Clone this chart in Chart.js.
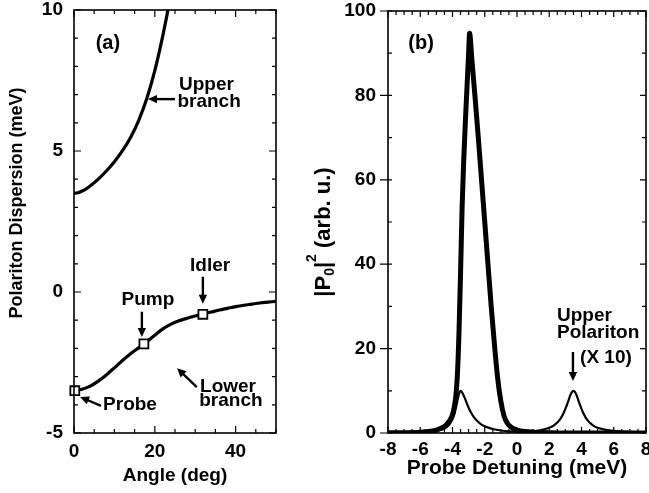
<!DOCTYPE html>
<html><head><meta charset="utf-8">
<script src="https://cdn.jsdelivr.net/npm/chart.js@4"></script>
<style>
html,body{margin:0;padding:0;background:#fff;width:649px;height:493px;overflow:hidden}
canvas{position:absolute;top:0;display:block}
#ca{left:0}
#cb{left:290px}
</style></head><body>
<canvas id="ca" width="320" height="493"></canvas>
<canvas id="cb" width="359" height="493"></canvas>
<script>
// ---------- Panel (a): polariton dispersion ----------
const UPPER_ANGLE  = [0, 1, 2, 3, 4, 6, 8, 10, 12, 14, 16, 18, 20, 22, 24];
const UPPER_ENERGY = [3.5, 3.52, 3.58, 3.66, 3.76, 4.0, 4.29, 4.62, 5.01, 5.48, 6.08, 6.85, 7.85, 9.1, 10.55];

const LOWER_ANGLE  = [0, 2, 4, 6, 8, 10, 12, 14, 16, 18, 20, 22, 24, 26, 28, 30, 32, 34, 36, 38, 40, 42, 44, 46, 48, 50];
const LOWER_ENERGY = [-3.5, -3.45, -3.34, -3.16, -2.94, -2.69, -2.43, -2.19, -1.98, -1.77, -1.53, -1.31, -1.14, -1.02, -0.93, -0.85, -0.78, -0.71, -0.64, -0.58, -0.52, -0.47, -0.43, -0.39, -0.36, -0.33];

const MARK_NAMES  = ['Probe', 'Pump', 'Idler'];
const MARK_ANGLE  = [0.2, 17.3, 31.9];
const MARK_ENERGY = [-3.5, -1.84, -0.79];

const LEFT_X_TICKS = [0, 20, 40];
const LEFT_Y_TICKS = [-5, 0, 5, 10];

// ---------- Panel (b): probe spectrum ----------
const THICK_X = [-8, -7, -6, -5.5, -5, -4.8, -4.6, -4.4, -4.2, -4.0, -3.9, -3.8, -3.7, -3.6, -3.5, -3.4, -3.3, -3.2, -3.1, -3.0, -2.94, -2.8, -2.6, -2.4, -2.2, -2.0, -1.8, -1.6, -1.4, -1.2, -1.0, -0.8, -0.6, -0.4, -0.2, 0, 0.5, 1, 2, 4, 8];
const THICK_Y = [0.04, 0.08, 0.2, 0.35, 0.7, 1.0, 1.3, 1.9, 2.8, 4.3, 6, 8.5, 13.5, 23.5, 38, 54, 65, 74, 82, 90, 94.7, 88.5, 79.5, 70, 60, 50, 40, 30, 21, 13, 7.5, 4.0, 2.3, 1.5, 1.0, 0.7, 0.35, 0.2, 0.07, 0.02, 0];

const THIN_X = [-8, -7, -6, -5.5, -5, -4.6, -4.4, -4.2, -4.0, -3.9, -3.8, -3.7, -3.6, -3.5, -3.4, -3.3, -3.2, -3.1, -3.0, -2.8, -2.6, -2.4, -2.2, -2.0, -1.8, -1.5, -1.0, -0.5, 0, 0.5, 1.0, 1.5, 2.0, 2.25, 2.5, 2.7, 2.9, 3.0, 3.1, 3.2, 3.3, 3.4, 3.5, 3.6, 3.7, 3.8, 3.9, 4.0, 4.1, 4.3, 4.5, 4.75, 5.0, 5.5, 6, 7, 8];
const THIN_Y = [0.1, 0.15, 0.25, 0.35, 0.55, 0.9, 1.3, 2.0, 3.3, 4.3, 5.8, 7.6, 9.2, 10, 9.6, 8.8, 7.9, 6.9, 6.0, 4.5, 3.4, 2.6, 2.0, 1.6, 1.3, 0.95, 0.6, 0.4, 0.3, 0.3, 0.4, 0.7, 1.25, 1.7, 2.5, 3.4, 4.8, 5.7, 6.7, 7.8, 8.9, 9.7, 10, 9.7, 8.9, 7.8, 6.7, 5.7, 4.8, 3.4, 2.5, 1.7, 1.25, 0.75, 0.5, 0.28, 0.18];

const RIGHT_X_TICKS = [-8, -6, -4, -2, 0, 2, 4, 6, 8];
const RIGHT_Y_TICKS = [0, 20, 40, 60, 80, 100];

// ---------- helpers ----------
const FONT = '"Liberation Sans", Arial, Helvetica, sans-serif';
const pts = (xs, ys) => xs.map((x, i) => ({x: x, y: ys[i]}));
function range(a, b, s) { const r = []; for (let v = a; v <= b + 1e-9; v += s) r.push(+v.toFixed(6)); return r; }

function arrow(ctx, x1, y1, x2, y2) {
  const a = Math.atan2(y2 - y1, x2 - x1), L = 9, W = 4.2;
  ctx.lineWidth = 2.4;
  ctx.beginPath(); ctx.moveTo(x1, y1);
  ctx.lineTo(x2 - Math.cos(a) * L * 0.8, y2 - Math.sin(a) * L * 0.8); ctx.stroke();
  ctx.beginPath(); ctx.moveTo(x2, y2);
  ctx.lineTo(x2 - L * Math.cos(a) + W * Math.sin(a), y2 - L * Math.sin(a) - W * Math.cos(a));
  ctx.lineTo(x2 - L * Math.cos(a) - W * Math.sin(a), y2 - L * Math.sin(a) + W * Math.cos(a));
  ctx.closePath(); ctx.fill();
}

function drawRotated(ctx, segs, bx, cy) {
  ctx.save(); ctx.translate(bx, cy); ctx.rotate(-Math.PI / 2);
  let total = 0;
  segs.forEach(s => { ctx.font = 'bold ' + s.size + 'px ' + FONT; s.w = ctx.measureText(s.t).width; total += s.w; });
  let u = -total / 2;
  ctx.textAlign = 'left'; ctx.textBaseline = 'alphabetic';
  segs.forEach(s => { ctx.font = 'bold ' + s.size + 'px ' + FONT; ctx.fillText(s.t, u, s.dy || 0); u += s.w; });
  ctx.restore();
}

function deco(o) {
  return {
    id: 'deco',
    afterDraw(chart) {
      const ctx = chart.ctx, a = chart.chartArea, xs = chart.scales.x, ys = chart.scales.y;
      ctx.save();
      ctx.strokeStyle = '#000'; ctx.fillStyle = '#000';
      ctx.lineWidth = 1.2; ctx.beginPath();
      const xt = (vals, len) => vals.forEach(v => {
        const p = xs.getPixelForValue(v);
        ctx.moveTo(p, a.bottom); ctx.lineTo(p, a.bottom - len);
        ctx.moveTo(p, a.top); ctx.lineTo(p, a.top + len);
      });
      const yt = (vals, lenL, lenR) => vals.forEach(v => {
        const p = ys.getPixelForValue(v);
        ctx.moveTo(a.left, p); ctx.lineTo(a.left + lenL, p);
        ctx.moveTo(a.right, p); ctx.lineTo(a.right - lenR, p);
      });
      xt(o.xMinor, o.minorLen); xt(o.xMajor, o.majorLen);
      yt(o.yMinor, o.minorLen, o.minorLen); yt(o.yMajor, o.yMajorLeft, o.majorLen);
      ctx.stroke();
      ctx.lineWidth = 1.6;
      ctx.strokeRect(a.left, a.top, a.right - a.left, a.bottom - a.top);
      ctx.textBaseline = 'middle';
      o.texts.forEach(t => {
        ctx.font = 'bold ' + (t.size || 19) + 'px ' + FONT;
        ctx.textAlign = t.align || 'left';
        ctx.fillText(t.t, xs.getPixelForValue(t.x), ys.getPixelForValue(t.y));
      });
      o.arrows.forEach(r => arrow(ctx, xs.getPixelForValue(r[0]), ys.getPixelForValue(r[1]), xs.getPixelForValue(r[2]), ys.getPixelForValue(r[3])));
      ctx.textAlign = 'center'; ctx.textBaseline = 'alphabetic';
      ctx.font = 'bold ' + o.xTitleSize + 'px ' + FONT;
      ctx.fillText(o.xTitle, (a.left + a.right) / 2, o.xTitleBaseline);
      drawRotated(ctx, o.yTitle, o.yTitleBaseline, o.yTitleCenter);
      ctx.restore();
    }
  };
}

function scaleOpts(min, max, ticks, fitSize, horiz, pad) {
  return {
    type: 'linear', min: min, max: max,
    grid: {display: false, drawTicks: false}, border: {display: false},
    ticks: {font: {family: FONT, weight: 'bold', size: 19}, color: '#000', padding: pad, maxRotation: 0, autoSkip: false},
    afterBuildTicks: s => { s.ticks = ticks.map(v => ({value: v})); },
    afterFit: s => {
      if (horiz) s.height = fitSize; else s.width = fitSize;
      s.paddingLeft = 0; s.paddingRight = 0; s.paddingTop = 0; s.paddingBottom = 0;
    }
  };
}

const base = {
  responsive: false, animation: false, devicePixelRatio: 1, events: [],
  plugins: {legend: {display: false}, tooltip: {enabled: false}}
};

// ---------- chart (a) ----------
new Chart(document.getElementById('ca'), {
  type: 'line',
  data: {datasets: [
    {data: pts(MARK_ANGLE, MARK_ENERGY), showLine: false, pointStyle: 'rect', pointRadius: 6.3,
     pointBorderWidth: 1.8, pointBorderColor: '#000', pointBackgroundColor: '#fff', clip: false, order: 0},
    {data: pts(UPPER_ANGLE, UPPER_ENERGY), borderColor: '#000', borderWidth: 3.2, pointRadius: 0,
     cubicInterpolationMode: 'monotone', fill: false, order: 1},
    {data: pts(LOWER_ANGLE, LOWER_ENERGY), borderColor: '#000', borderWidth: 3.2, pointRadius: 0,
     cubicInterpolationMode: 'monotone', fill: false, order: 1}
  ]},
  options: Object.assign({}, base, {
    layout: {padding: {left: 0, right: 44, top: 10, bottom: 0}},
    scales: {
      x: scaleOpts(0, 50, LEFT_X_TICKS, 60, true, 7),
      y: scaleOpts(-5, 10, LEFT_Y_TICKS, 74, false, 11)
    }
  }),
  plugins: [deco({
    xMajor: LEFT_X_TICKS, xMinor: range(0, 50, 5), yMajor: LEFT_Y_TICKS, yMinor: range(-5, 10, 1),
    majorLen: 7, minorLen: 4, yMajorLeft: 7,
    texts: [
      {t: '(a)', x: 8.4, y: 8.83, align: 'center', size: 20},
      {t: 'Upper', x: 26.0, y: 7.36, align: 'left'},
      {t: 'branch', x: 25.6, y: 6.76, align: 'left'},
      {t: 'Idler', x: 33.7, y: 0.92, align: 'center'},
      {t: 'Pump', x: 18.3, y: -0.27, align: 'center'},
      {t: 'Probe', x: 7.2, y: -4.0, align: 'left'},
      {t: 'Lower', x: 31.2, y: -3.35, align: 'left'},
      {t: 'branch', x: 31.0, y: -3.87, align: 'left'}
    ],
    arrows: [
      [25.0, 6.84, 18.3, 6.84],
      [31.9, 0.54, 31.9, -0.42],
      [16.8, -0.70, 16.8, -1.60],
      [6.7, -4.04, 1.5, -3.72],
      [30.4, -3.37, 25.5, -2.70]
    ],
    xTitle: 'Angle (deg)', xTitleSize: 19, xTitleBaseline: 481,
    yTitle: [{t: 'Polariton Dispersion (meV)', size: 18}], yTitleBaseline: 22, yTitleCenter: 203
  })]
});

// ---------- chart (b) ----------
new Chart(document.getElementById('cb'), {
  type: 'line',
  data: {datasets: [
    {data: pts(THICK_X, THICK_Y), borderColor: '#000', borderWidth: 5, pointRadius: 0,
     cubicInterpolationMode: 'monotone', fill: false, order: 0},
    {data: pts(THIN_X, THIN_Y), borderColor: '#000', borderWidth: 2.2, pointRadius: 0,
     cubicInterpolationMode: 'monotone', fill: false, order: 1}
  ]},
  options: Object.assign({}, base, {
    layout: {padding: {left: 0, right: 3, top: 11, bottom: 0}},
    scales: {
      x: scaleOpts(-8, 8, RIGHT_X_TICKS, 60, true, 5),
      y: scaleOpts(0, 100, RIGHT_Y_TICKS, 98, false, 12)
    }
  }),
  plugins: [deco({
    xMajor: RIGHT_X_TICKS, xMinor: range(-8, 8, 0.5), yMajor: RIGHT_Y_TICKS, yMinor: range(0, 100, 10),
    majorLen: 6, minorLen: 4, yMajorLeft: -8,
    texts: [
      {t: '(b)', x: -5.95, y: 92.3, align: 'center', size: 20},
      {t: 'Upper', x: 2.48, y: 27.7, align: 'left'},
      {t: 'Polariton', x: 2.48, y: 23.7, align: 'left'},
      {t: '(X 10)', x: 3.91, y: 17.9, align: 'left'}
    ],
    arrows: [[3.47, 19.2, 3.47, 12.3]],
    xTitle: 'Probe Detuning (meV)', xTitleSize: 21, xTitleBaseline: 474,
    yTitle: [
      {t: '|P', size: 22}, {t: '0', size: 14, dy: 4}, {t: '|', size: 22},
      {t: '2', size: 14, dy: -14}, {t: ' (arb. u.)', size: 22}
    ],
    yTitleBaseline: 40, yTitleCenter: 232
  })]
});
</script>
</body></html>
